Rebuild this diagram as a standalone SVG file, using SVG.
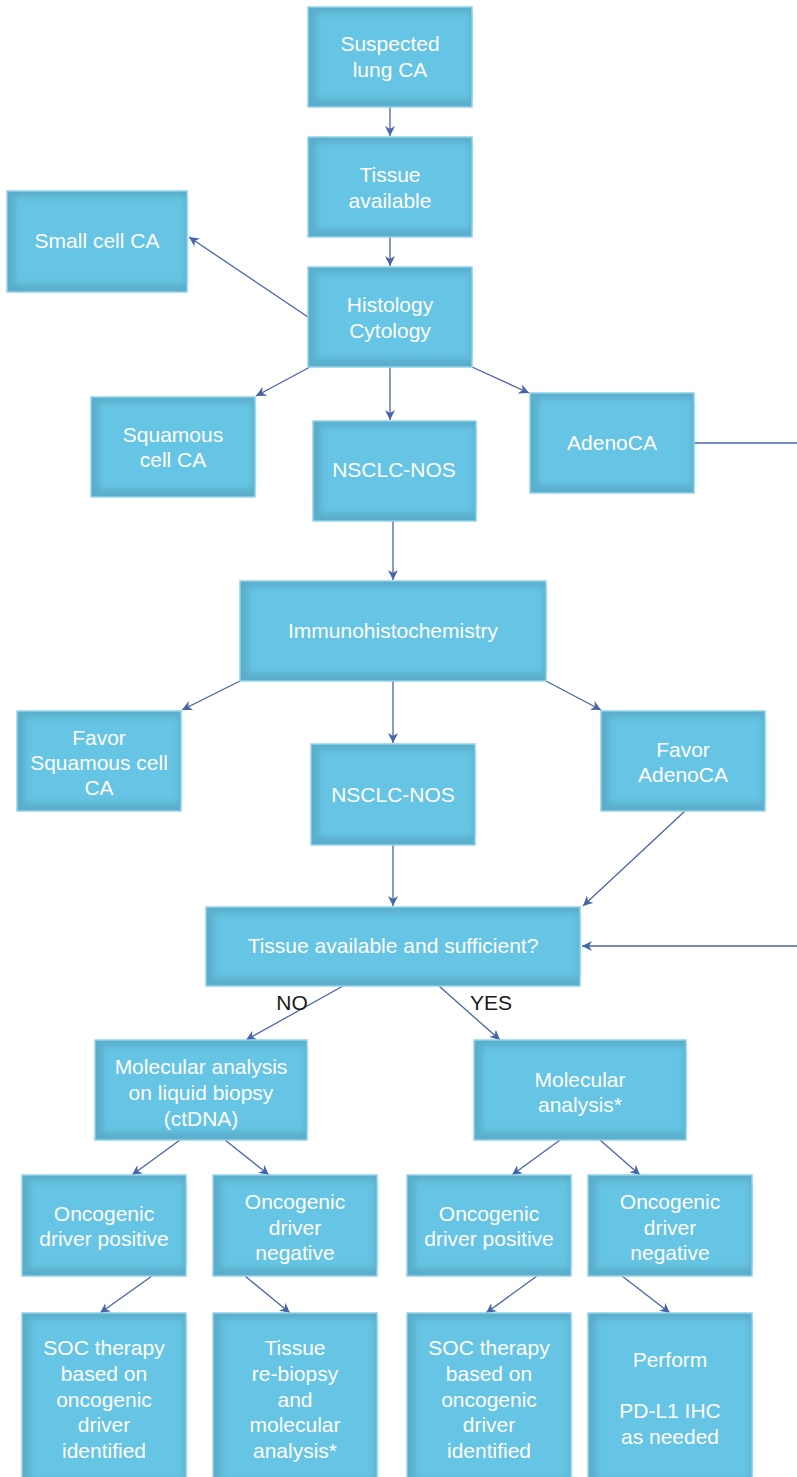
<svg xmlns="http://www.w3.org/2000/svg" width="797" height="1477" viewBox="0 0 797 1477">
<style>
.bx rect.o{fill:#5aaecb;stroke:#93d2ea;stroke-width:1.5}
.bx rect.i{fill:#66c4e4;filter:url(#bl)}
.bx text{font-family:"Liberation Sans",Arial,sans-serif;font-size:21px;fill:#fff;text-anchor:middle}
.c line,.c path{stroke:#4766a8;stroke-width:1.3;fill:none}
.lb{font-family:"Liberation Sans",Arial,sans-serif;font-size:21px;fill:#1a1a1a;text-anchor:middle}
</style>
<defs>
<filter id="bl" x="-10%" y="-10%" width="120%" height="120%"><feGaussianBlur stdDeviation="3"/></filter>
<marker id="ah" viewBox="0 0 10 10" refX="10" refY="5" markerWidth="10" markerHeight="10" markerUnits="userSpaceOnUse" orient="auto"><path d="M0,0 L10,5 L0,10 L3,5 Z" fill="#4766a8"/></marker>
</defs>
<rect width="797" height="1477" fill="#fff"/>
<g class="c">
<line x1="390" y1="107" x2="390" y2="136" marker-end="url(#ah)"/>
<line x1="390" y1="237" x2="390" y2="266" marker-end="url(#ah)"/>
<line x1="308" y1="317" x2="189" y2="237" marker-end="url(#ah)"/>
<line x1="310" y1="367" x2="256" y2="396" marker-end="url(#ah)"/>
<line x1="390" y1="367" x2="390" y2="420" marker-end="url(#ah)"/>
<line x1="472" y1="367" x2="529" y2="393" marker-end="url(#ah)"/>
<line x1="694" y1="443" x2="797" y2="443"/>
<line x1="797" y1="946" x2="582" y2="946" marker-end="url(#ah)"/>
<line x1="393" y1="521" x2="393" y2="580" marker-end="url(#ah)"/>
<line x1="240" y1="681" x2="182" y2="710" marker-end="url(#ah)"/>
<line x1="393" y1="681" x2="393" y2="743" marker-end="url(#ah)"/>
<line x1="546" y1="681" x2="601" y2="710" marker-end="url(#ah)"/>
<line x1="393" y1="845" x2="393" y2="906" marker-end="url(#ah)"/>
<line x1="685" y1="811" x2="583" y2="906" marker-end="url(#ah)"/>
<line x1="343" y1="986" x2="246" y2="1040" marker-end="url(#ah)"/>
<line x1="439" y1="986" x2="500" y2="1040" marker-end="url(#ah)"/>
<line x1="180" y1="1140" x2="132" y2="1175" marker-end="url(#ah)"/>
<line x1="225" y1="1140" x2="269" y2="1175" marker-end="url(#ah)"/>
<line x1="560" y1="1140" x2="512" y2="1175" marker-end="url(#ah)"/>
<line x1="600" y1="1140" x2="640" y2="1175" marker-end="url(#ah)"/>
<line x1="152" y1="1276" x2="100" y2="1313" marker-end="url(#ah)"/>
<line x1="245" y1="1276" x2="290" y2="1313" marker-end="url(#ah)"/>
<line x1="537" y1="1276" x2="486" y2="1313" marker-end="url(#ah)"/>
<line x1="622" y1="1276" x2="670" y2="1313" marker-end="url(#ah)"/>
</g>
<text class="lb" x="292" y="1010">NO</text>
<text class="lb" x="491" y="1010">YES</text>
<g id="n1" class="bx"><rect class="o" x="308" y="7" width="164" height="100"/><rect class="i" x="316" y="13" width="154" height="86"/><text x="390" y="51">Suspected</text><text x="390" y="77">lung CA</text></g>
<g id="n2" class="bx"><rect class="o" x="308" y="137" width="164" height="100"/><rect class="i" x="316" y="143" width="154" height="86"/><text x="390" y="182">Tissue</text><text x="390" y="208">available</text></g>
<g id="n3" class="bx"><rect class="o" x="7" y="191" width="180" height="101"/><rect class="i" x="15" y="197" width="170" height="87"/><text x="97" y="248">Small cell CA</text></g>
<g id="n4" class="bx"><rect class="o" x="308" y="267" width="164" height="100"/><rect class="i" x="316" y="273" width="154" height="86"/><text x="390" y="312">Histology</text><text x="390" y="338">Cytology</text></g>
<g id="n5" class="bx"><rect class="o" x="91" y="397" width="164" height="100"/><rect class="i" x="99" y="403" width="154" height="86"/><text x="173" y="442">Squamous</text><text x="173" y="467">cell CA</text></g>
<g id="n6" class="bx"><rect class="o" x="313" y="421" width="163" height="100"/><rect class="i" x="321" y="427" width="153" height="86"/><text x="394" y="477">NSCLC-NOS</text></g>
<g id="n7" class="bx"><rect class="o" x="530" y="393" width="164" height="100"/><rect class="i" x="538" y="399" width="154" height="86"/><text x="612" y="450">AdenoCA</text></g>
<g id="n8" class="bx"><rect class="o" x="240" y="581" width="306" height="100"/><rect class="i" x="248" y="587" width="296" height="86"/><text x="393" y="638">Immunohistochemistry</text></g>
<g id="n9" class="bx"><rect class="o" x="17" y="711" width="164" height="100"/><rect class="i" x="25" y="717" width="154" height="86"/><text x="99" y="745">Favor</text><text x="99" y="770">Squamous cell</text><text x="99" y="795">CA</text></g>
<g id="n10" class="bx"><rect class="o" x="311" y="744" width="164" height="101"/><rect class="i" x="319" y="750" width="154" height="87"/><text x="393" y="802">NSCLC-NOS</text></g>
<g id="n11" class="bx"><rect class="o" x="601" y="711" width="164" height="100"/><rect class="i" x="609" y="717" width="154" height="86"/><text x="683" y="757">Favor</text><text x="683" y="782">AdenoCA</text></g>
<g id="n12" class="bx"><rect class="o" x="206" y="907" width="374" height="79"/><rect class="i" x="214" y="913" width="364" height="65"/><text x="393" y="953">Tissue available and sufficient?</text></g>
<g id="n13" class="bx"><rect class="o" x="95" y="1040" width="212" height="100"/><rect class="i" x="103" y="1046" width="202" height="86"/><text x="201" y="1074">Molecular analysis</text><text x="201" y="1100">on liquid biopsy</text><text x="201" y="1126">(ctDNA)</text></g>
<g id="n14" class="bx"><rect class="o" x="474" y="1040" width="212" height="100"/><rect class="i" x="482" y="1046" width="202" height="86"/><text x="580" y="1087">Molecular</text><text x="580" y="1112">analysis*</text></g>
<g id="n15" class="bx"><rect class="o" x="22" y="1175" width="164" height="101"/><rect class="i" x="30" y="1181" width="154" height="87"/><text x="104" y="1221">Oncogenic</text><text x="104" y="1246">driver positive</text></g>
<g id="n16" class="bx"><rect class="o" x="213" y="1175" width="164" height="101"/><rect class="i" x="221" y="1181" width="154" height="87"/><text x="295" y="1209">Oncogenic</text><text x="295" y="1235">driver</text><text x="295" y="1260">negative</text></g>
<g id="n17" class="bx"><rect class="o" x="407" y="1175" width="164" height="101"/><rect class="i" x="415" y="1181" width="154" height="87"/><text x="489" y="1221">Oncogenic</text><text x="489" y="1246">driver positive</text></g>
<g id="n18" class="bx"><rect class="o" x="588" y="1175" width="164" height="101"/><rect class="i" x="596" y="1181" width="154" height="87"/><text x="670" y="1209">Oncogenic</text><text x="670" y="1235">driver</text><text x="670" y="1260">negative</text></g>
<g id="n19" class="bx"><rect class="o" x="22" y="1313" width="164" height="170"/><rect class="i" x="30" y="1319" width="154" height="160"/><text x="104" y="1355">SOC therapy</text><text x="104" y="1381">based on</text><text x="104" y="1407">oncogenic</text><text x="104" y="1432">driver</text><text x="104" y="1458">identified</text></g>
<g id="n20" class="bx"><rect class="o" x="213" y="1313" width="164" height="170"/><rect class="i" x="221" y="1319" width="154" height="160"/><text x="295" y="1355">Tissue</text><text x="295" y="1381">re-biopsy</text><text x="295" y="1407">and</text><text x="295" y="1432">molecular</text><text x="295" y="1458">analysis*</text></g>
<g id="n21" class="bx"><rect class="o" x="407" y="1313" width="164" height="170"/><rect class="i" x="415" y="1319" width="154" height="160"/><text x="489" y="1355">SOC therapy</text><text x="489" y="1381">based on</text><text x="489" y="1407">oncogenic</text><text x="489" y="1432">driver</text><text x="489" y="1458">identified</text></g>
<g id="n22" class="bx"><rect class="o" x="588" y="1313" width="164" height="170"/><rect class="i" x="596" y="1319" width="154" height="160"/><text x="670" y="1367">Perform</text><text x="670" y="1418">PD-L1 IHC</text><text x="670" y="1444">as needed</text></g>
</svg>
